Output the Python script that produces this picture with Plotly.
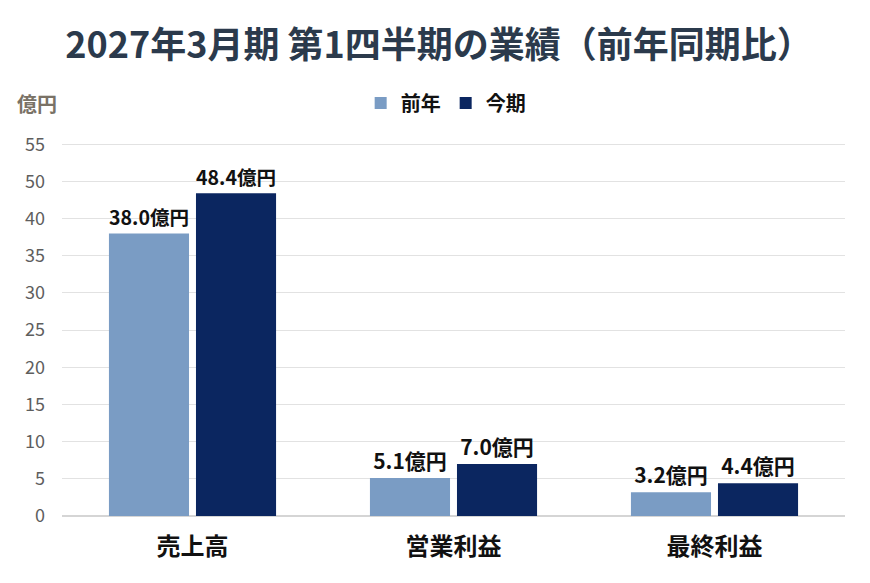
import plotly.graph_objects as go

categories = ["売上高", "営業利益", "最終利益"]
series_names = ["前年", "今期"]
prev_values = [38.0, 5.1, 3.2]
curr_values = [48.4, 7.0, 4.4]
tick_labels = [0, 5, 10, 15, 20, 25, 30, 35, 40, 50, 55]

# The reference uses a broken value axis: the span 40-50 is shortened by 5 units.
BREAK_AT, BREAK_GAP = 40, 5


def axis_pos(v):
    return v if v <= BREAK_AT else v - BREAK_GAP


FONT = "Noto Sans CJK JP"
colors = ["#7a9cc4", "#0b2660"]

fig = go.Figure()
for name, vals, col in zip(series_names, [prev_values, curr_values], colors):
    fig.add_trace(go.Bar(
        name=name,
        x=categories,
        y=[axis_pos(v) for v in vals],
        marker=dict(color=col, line=dict(width=0)),
        text=[f"{v:.1f}億円" for v in vals],
        textposition="outside",
        cliponaxis=False,
        textfont=dict(family=FONT, size=21, color="#111111", weight="bold"),
        hovertext=[f"{v:.1f}" for v in vals],
    ))

fig.update_layout(
    width=862, height=575,
    paper_bgcolor="white", plot_bgcolor="white",
    margin=dict(l=54, r=25, t=134, b=67),
    barmode="group", bargap=0.333, bargroupgap=0.08,
    title=dict(
        text="<b>2027年3月期 第1四半期の業績（前年同期比）</b>",
        x=0.5, xanchor="center", y=0.935, yanchor="middle",
        font=dict(family=FONT, size=36, color="#2b3a4c"),
    ),
    legend=dict(
        orientation="h", x=0.49, xanchor="center", y=1.104, yanchor="middle",
        font=dict(family=FONT, size=20, color="#111111", weight="bold"),
        itemwidth=30, traceorder="normal",
    ),
    showlegend=True,
    xaxis=dict(
        tickfont=dict(family=FONT, size=24, color="#111111", weight="bold"),
        showline=False, ticks="", showgrid=False, ticklabelstandoff=14,
    ),
    yaxis=dict(
        range=[0, 50.3],
        tickvals=[axis_pos(t) for t in tick_labels],
        ticktext=[str(t) for t in tick_labels],
        tickfont=dict(family=FONT, size=18, color="#5e5e5e"),
        gridcolor="#e2e2e2", gridwidth=1,
        zeroline=True, zerolinecolor="#d5d5d5", zerolinewidth=1.5,
        ticks="", ticklabelstandoff=16,
    ),
    font=dict(family=FONT),
)

fig.add_annotation(
    text="<b>億円</b>", xref="paper", yref="paper", x=-0.06, y=1.104,
    xanchor="left", yanchor="middle", showarrow=False,
    font=dict(family=FONT, size=20, color="#7a7266"),
)

fig.write_html("out.html")
